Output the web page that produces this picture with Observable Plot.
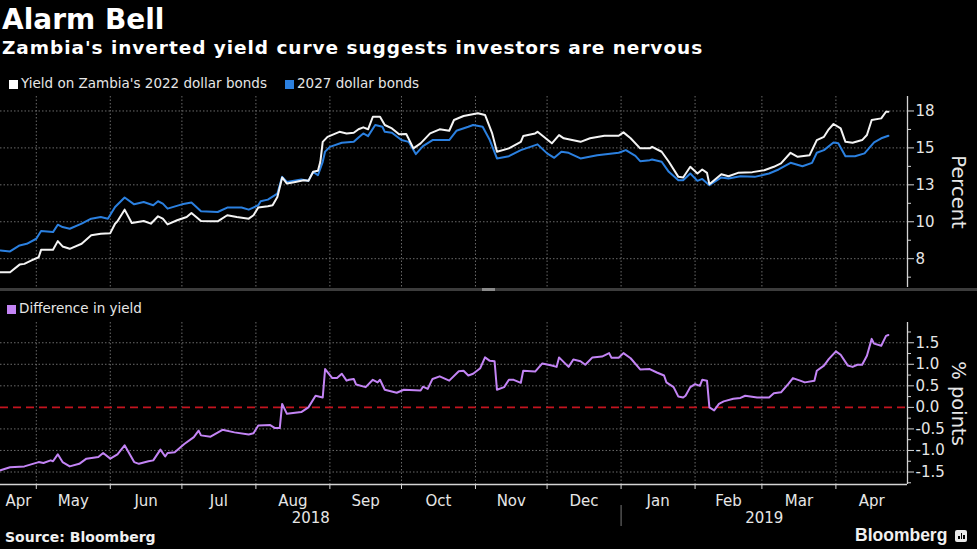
<!DOCTYPE html>
<html>
<head>
<meta charset="utf-8">
<script src="https://cdn.jsdelivr.net/npm/d3@7"></script>
<script src="https://cdn.jsdelivr.net/npm/@observablehq/plot@0.6"></script>
<style>
html,body{margin:0;padding:0;background:#000;}
#root{position:relative;width:977px;height:549px;overflow:hidden;background:#000;color:#e6e6e6;font-family:"DejaVu Sans",sans-serif;}
.abs{position:absolute;white-space:nowrap;}
#title{left:2px;top:2px;font-size:28px;font-weight:bold;color:#fff;line-height:36px;}
#subtitle{left:2px;top:36px;font-size:18.5px;font-weight:bold;color:#fff;letter-spacing:0.95px;line-height:24px;}
.leg{font-size:13.5px;color:#e6e6e6;line-height:16px;}
.sw{display:inline-block;width:9px;height:9px;margin-right:3px;vertical-align:-0.5px;}
#divider{left:0;top:288px;width:977px;height:2.5px;background:#3c3c3c;}
#handle{left:482px;top:288px;width:13px;height:2.5px;background:#8a8a8a;}
#source{left:5px;top:529px;font-size:14px;font-weight:bold;color:#f0f0f0;line-height:16px;}
#logo{left:855px;top:525px;font-family:"Liberation Sans",sans-serif;font-size:17.5px;font-weight:bold;color:#f0f0f0;line-height:20px;}
#icon{left:955px;top:530px;width:12px;height:12px;background:#e8e8e8;border-radius:2px;}
.bar{position:absolute;bottom:3px;width:1.5px;background:#000;}
svg{position:absolute;left:0;}
</style>
</head>
<body>
<div id="root">
  <div id="title" class="abs">Alarm Bell</div>
  <div id="subtitle" class="abs">Zambia's inverted yield curve suggests investors are nervous</div>
  <div class="abs leg" style="left:9px;top:75px"><span class="sw" style="background:#ffffff"></span>Yield on Zambia's 2022 dollar bonds</div>
  <div class="abs leg" style="left:285px;top:75px"><span class="sw" style="background:#2b80e0"></span>2027 dollar bonds</div>
  <div id="divider" class="abs"></div>
  <div id="handle" class="abs"></div>
  <div class="abs leg" style="left:7px;top:300px"><span class="sw" style="background:#c384f5"></span>Difference in yield</div>
  <div id="source" class="abs">Source: Bloomberg</div>
  <div id="logo" class="abs">Bloomberg</div>
  <div id="icon" class="abs"><div class="bar" style="left:3px;height:3px"></div><div class="bar" style="left:5.5px;height:6px"></div><div class="bar" style="left:8px;height:4px"></div></div>
</div>
<script>
// ---------- data ----------
const dates2022 = ["2018-04-16","2018-04-20","2018-04-24","2018-04-26","2018-04-29","2018-05-02","2018-05-03","2018-05-08","2018-05-10","2018-05-12","2018-05-15","2018-05-20","2018-05-24","2018-05-28","2018-06-01","2018-06-03","2018-06-04","2018-06-07","2018-06-10","2018-06-15","2018-06-18","2018-06-21","2018-06-23","2018-06-25","2018-06-29","2018-07-03","2018-07-05","2018-07-09","2018-07-13","2018-07-16","2018-07-20","2018-07-24","2018-07-29","2018-07-31","2018-08-02","2018-08-06","2018-08-08","2018-08-10","2018-08-12","2018-08-14","2018-08-17","2018-08-21","2018-08-23","2018-08-25","2018-08-27","2018-08-28","2018-08-29","2018-08-31","2018-09-05","2018-09-08","2018-09-11","2018-09-13","2018-09-15","2018-09-17","2018-09-19","2018-09-22","2018-09-24","2018-09-27","2018-09-30","2018-10-03","2018-10-06","2018-10-09","2018-10-13","2018-10-17","2018-10-21","2018-10-23","2018-10-27","2018-11-02","2018-11-05","2018-11-08","2018-11-10","2018-11-15","2018-11-20","2018-11-21","2018-11-26","2018-11-27","2018-12-03","2018-12-06","2018-12-08","2018-12-15","2018-12-19","2018-12-25","2018-12-31","2019-01-02","2019-01-05","2019-01-09","2019-01-13","2019-01-14","2019-01-18","2019-01-21","2019-01-25","2019-01-27","2019-01-30","2019-02-02","2019-02-04","2019-02-06","2019-02-07","2019-02-12","2019-02-15","2019-02-19","2019-02-25","2019-03-02","2019-03-06","2019-03-09","2019-03-13","2019-03-16","2019-03-21","2019-03-24","2019-03-27","2019-03-29","2019-03-31","2019-04-03","2019-04-05","2019-04-08","2019-04-12","2019-04-14","2019-04-16","2019-04-20","2019-04-22","2019-04-23"];
const yield2022 = [6.58,6.58,7.10,7.15,7.38,7.60,8.10,8.10,8.69,8.33,8.17,8.51,9.08,9.19,9.23,9.87,10.03,10.82,9.91,10.05,9.87,10.37,10.21,9.82,10.10,10.32,10.59,10.05,10.03,10.03,10.44,10.32,10.21,10.44,10.96,11.05,11.12,11.68,13.00,12.59,12.68,12.81,12.77,13.38,13.45,14.06,15.41,15.75,16.09,15.98,16.03,16.26,16.39,16.26,17.11,17.11,16.55,16.32,15.92,15.94,14.97,15.31,15.98,16.26,16.16,16.89,17.16,17.34,17.23,15.98,14.74,14.97,15.41,15.80,15.98,16.09,15.31,15.87,15.65,15.41,15.65,15.82,15.82,16.05,15.65,14.97,14.97,15.07,14.74,14.06,13.04,13.00,13.72,13.27,13.54,13.31,12.54,13.22,13.08,13.31,13.36,13.49,13.72,13.95,14.67,14.40,14.51,15.53,15.75,16.26,16.62,16.32,15.41,15.35,15.53,15.87,16.89,17.00,17.45,17.45];

const dates2027 = ["2018-04-16","2018-04-20","2018-04-24","2018-04-27","2018-05-01","2018-05-03","2018-05-08","2018-05-10","2018-05-12","2018-05-15","2018-05-20","2018-05-24","2018-05-28","2018-05-31","2018-06-03","2018-06-07","2018-06-11","2018-06-15","2018-06-19","2018-06-21","2018-06-23","2018-06-25","2018-07-01","2018-07-05","2018-07-09","2018-07-16","2018-07-20","2018-07-26","2018-07-29","2018-08-02","2018-08-03","2018-08-06","2018-08-10","2018-08-12","2018-08-14","2018-08-20","2018-08-23","2018-08-25","2018-08-27","2018-08-29","2018-08-30","2018-09-01","2018-09-06","2018-09-11","2018-09-13","2018-09-15","2018-09-17","2018-09-20","2018-09-23","2018-09-24","2018-09-27","2018-10-01","2018-10-04","2018-10-07","2018-10-10","2018-10-14","2018-10-21","2018-10-24","2018-10-29","2018-10-31","2018-11-04","2018-11-07","2018-11-10","2018-11-15","2018-11-20","2018-11-27","2018-12-01","2018-12-04","2018-12-07","2018-12-10","2018-12-15","2018-12-22","2018-12-31","2019-01-03","2019-01-07","2019-01-09","2019-01-13","2019-01-14","2019-01-18","2019-01-21","2019-01-25","2019-01-27","2019-01-30","2019-02-02","2019-02-04","2019-02-07","2019-02-12","2019-02-15","2019-02-20","2019-02-26","2019-03-04","2019-03-08","2019-03-13","2019-03-18","2019-03-22","2019-03-24","2019-03-27","2019-03-31","2019-04-02","2019-04-05","2019-04-09","2019-04-13","2019-04-17","2019-04-20","2019-04-23"];
const yield2027 = [8.06,7.99,8.40,8.51,8.85,9.37,9.30,9.80,9.64,9.53,9.87,10.21,10.32,10.21,11.00,11.64,11.18,11.34,11.12,11.39,11.23,10.89,11.18,11.30,10.71,10.66,10.96,10.96,10.82,11.12,11.39,11.50,11.91,13.04,12.70,12.86,12.77,13.38,13.15,14.06,14.75,15.07,15.35,15.41,15.71,15.98,15.80,16.55,16.43,16.09,16.03,15.53,15.41,14.58,15.12,15.53,15.53,16.16,16.43,16.55,16.43,15.53,14.29,14.44,14.85,15.24,14.63,14.33,14.74,14.67,14.29,14.51,14.67,14.85,14.46,14.10,14.17,14.22,14.06,13.38,12.81,12.81,13.27,12.77,12.90,12.47,13.00,12.93,13.08,13.04,13.27,13.54,13.99,13.76,13.99,14.67,14.85,15.37,15.31,14.44,14.44,14.63,15.37,15.65,15.82];

const datesDiff = ["2018-04-16","2018-04-20","2018-04-26","2018-05-02","2018-05-04","2018-05-07","2018-05-08","2018-05-10","2018-05-12","2018-05-15","2018-05-19","2018-05-22","2018-05-27","2018-05-29","2018-06-01","2018-06-04","2018-06-07","2018-06-11","2018-06-13","2018-06-17","2018-06-19","2018-06-22","2018-06-24","2018-06-25","2018-06-28","2018-07-02","2018-07-06","2018-07-08","2018-07-09","2018-07-13","2018-07-18","2018-07-23","2018-07-29","2018-07-31","2018-08-02","2018-08-07","2018-08-09","2018-08-11","2018-08-12","2018-08-14","2018-08-20","2018-08-23","2018-08-26","2018-08-29","2018-08-30","2018-09-02","2018-09-04","2018-09-06","2018-09-08","2018-09-09","2018-09-11","2018-09-12","2018-09-16","2018-09-19","2018-09-21","2018-09-22","2018-09-24","2018-09-29","2018-10-02","2018-10-09","2018-10-10","2018-10-12","2018-10-14","2018-10-17","2018-10-21","2018-10-25","2018-10-27","2018-10-29","2018-10-31","2018-11-03","2018-11-05","2018-11-07","2018-11-09","2018-11-10","2018-11-13","2018-11-15","2018-11-17","2018-11-20","2018-11-21","2018-11-26","2018-11-29","2018-12-03","2018-12-05","2018-12-06","2018-12-10","2018-12-12","2018-12-15","2018-12-17","2018-12-20","2018-12-24","2018-12-27","2018-12-28","2018-12-31","2019-01-02","2019-01-05","2019-01-09","2019-01-13","2019-01-16","2019-01-19","2019-01-20","2019-01-23","2019-01-25","2019-01-27","2019-01-28","2019-01-30","2019-02-01","2019-02-03","2019-02-04","2019-02-06","2019-02-07","2019-02-09","2019-02-11","2019-02-13","2019-02-17","2019-02-20","2019-02-22","2019-02-27","2019-03-04","2019-03-06","2019-03-09","2019-03-12","2019-03-14","2019-03-17","2019-03-19","2019-03-23","2019-03-24","2019-03-27","2019-03-29","2019-04-01","2019-04-03","2019-04-06","2019-04-08","2019-04-10","2019-04-12","2019-04-14","2019-04-16","2019-04-17","2019-04-20","2019-04-22","2019-04-23"];
const diffYield = [-1.46,-1.39,-1.37,-1.27,-1.29,-1.23,-1.25,-1.09,-1.27,-1.37,-1.31,-1.19,-1.15,-1.06,-1.19,-1.09,-0.88,-1.27,-1.31,-1.25,-1.23,-0.98,-1.14,-1.06,-1.04,-0.85,-0.69,-0.54,-0.65,-0.68,-0.52,-0.58,-0.63,-0.60,-0.42,-0.41,-0.48,-0.48,0.08,-0.15,-0.11,0.00,0.27,0.23,0.89,0.68,0.68,0.78,0.62,0.64,0.66,0.53,0.47,0.64,0.58,0.64,0.41,0.34,0.41,0.39,0.48,0.43,0.66,0.72,0.62,0.84,0.85,0.74,0.78,0.91,1.16,1.08,1.07,0.41,0.47,0.64,0.64,0.57,0.85,0.83,1.02,0.97,0.94,1.16,0.94,1.11,1.07,0.99,1.16,1.18,1.26,1.15,1.15,1.26,1.14,0.88,0.89,0.81,0.74,0.58,0.47,0.25,0.23,0.27,0.47,0.54,0.50,0.64,0.62,0.00,-0.07,0.08,0.14,0.20,0.22,0.27,0.23,0.23,0.33,0.35,0.54,0.68,0.62,0.58,0.62,0.85,0.97,1.12,1.30,1.22,0.97,0.94,0.99,0.99,1.20,1.59,1.48,1.43,1.66,1.68];

const monthStarts = ["2018-05-01","2018-06-01","2018-07-01","2018-08-01","2018-09-01","2018-10-01","2018-11-01","2018-12-01","2019-01-01","2019-02-01","2019-03-01","2019-04-01"];
const monthLabels = ["Apr","May","Jun","Jul","Aug","Sep","Oct","Nov","Dec","Jan","Feb","Mar","Apr"];
const yearLabels = ["2018","2019"];
const yearStart2019 = "2019-01-01";
const xStart = "2018-04-16", xEnd = "2019-05-01";
const topTicks = [7.5, 10, 12.5, 15, 17.5];
const topMinor = [6.25, 8.75, 11.25, 13.75, 16.25];
const bottomTicks = [-1.5, -1, -0.5, 0, 0.5, 1, 1.5];
const bottomMinor = [-1.75, -1.25, -0.75, -0.25, 0.25, 0.75, 1.25, 1.75];

// ---------- build ----------
const parse = d3.utcParse("%Y-%m-%d");
const xDomain = [parse(xStart), parse(xEnd)];
const months = monthStarts.map(parse);
const toSeries = (ds, vs) => ds.map((d, i) => ({date: parse(d), value: vs[i]}));
const s2022 = toSeries(dates2022, yield2022);
const s2027 = toSeries(dates2027, yield2027);
const sDiff = toSeries(datesDiff, diffYield);

const bounds = [xDomain[0], ...months, xDomain[1]];
const monthData = monthLabels.map((label, i) => ({label, mid: new Date((+bounds[i] + +bounds[i + 1]) / 2)}));
const jan = parse(yearStart2019);
const yearData = [
  {label: yearLabels[0], mid: new Date((+xDomain[0] + +jan) / 2)},
  {label: yearLabels[1], mid: new Date((+jan + +xDomain[1]) / 2)}
];

const WHITE = "#f4f4f4", BLUE = "#2b80e0", PURPLE = "#c384f5", AXIS = "#d4d4d4", GRID = "#6a6a6a", TXT = "#e6e6e6";
const FONT = "DejaVu Sans";
const common = {
  width: 977, marginLeft: 0, marginRight: 70,
  style: {background: "transparent", color: TXT, fontFamily: FONT, fontSize: "15px", overflow: "visible"},
  x: {type: "utc", domain: xDomain, axis: null}
};
const gridStyle = {stroke: GRID, strokeOpacity: 1, strokeDasharray: "1.5,2"};

const topPlot = Plot.plot({
  ...common,
  height: 200, marginTop: 6, marginBottom: 3,
  y: {domain: [5.55, 18.48], axis: null},
  marks: [
    Plot.gridX(months, gridStyle),
    Plot.gridY(topTicks, gridStyle),
    Plot.ruleX([xDomain[1]], {stroke: AXIS, strokeWidth: 1.3}),
    Plot.axisY(topMinor, {anchor: "right", tickSize: 3, tickFormat: () => "", stroke: AXIS, label: null}),
    Plot.axisY(topTicks, {anchor: "right", tickSize: 6, tickPadding: 2, tickFormat: d => String(Math.round(d)), stroke: AXIS, fill: TXT, fontSize: 15, label: null}),
    Plot.text(["Percent"], {text: d => d, frameAnchor: "right", textAnchor: "middle", dx: 51, rotate: 90, fontSize: 19.5, fill: TXT}),
    Plot.line(s2027, {x: "date", y: "value", stroke: BLUE, strokeWidth: 2}),
    Plot.line(s2022, {x: "date", y: "value", stroke: WHITE, strokeWidth: 2})
  ]
});
topPlot.style.top = "90px";

const botPlot = Plot.plot({
  ...common,
  height: 175, marginTop: 6, marginBottom: 7,
  y: {domain: [-1.79, 1.97], axis: null},
  marks: [
    Plot.gridX(months, gridStyle),
    Plot.gridY(bottomTicks.filter(d => d !== 0), gridStyle),
    Plot.ruleY([0], {stroke: "#c3141f", strokeWidth: 1.6, strokeDasharray: "8,5"}),
    Plot.ruleX([xDomain[1]], {stroke: AXIS, strokeWidth: 1.3}),
    Plot.ruleY([-1.79], {stroke: AXIS, strokeWidth: 1.3}),
    Plot.axisX(months, {anchor: "bottom", tickSize: 5, tickFormat: () => "", stroke: AXIS, label: null}),
    Plot.axisY(bottomMinor, {anchor: "right", tickSize: 3, tickFormat: () => "", stroke: AXIS, label: null}),
    Plot.axisY(bottomTicks, {anchor: "right", tickSize: 6, tickPadding: 2, tickFormat: d => d.toFixed(1), stroke: AXIS, fill: TXT, fontSize: 15, label: null}),
    Plot.text(["% points"], {text: d => d, frameAnchor: "right", textAnchor: "middle", dx: 51, rotate: 90, fontSize: 19.5, fill: TXT}),
    Plot.line(sDiff, {x: "date", y: "value", stroke: PURPLE, strokeWidth: 2})
  ]
});
botPlot.style.top = "316px";

const axisPlot = Plot.plot({
  ...common,
  height: 60, marginTop: 21, marginBottom: 18,
  marks: [
    Plot.ruleX([jan], {stroke: "#777"}),
    Plot.text(monthData, {x: "mid", text: "label", frameAnchor: "top", dy: -10, fontSize: 15, fill: TXT}),
    Plot.text(yearData, {x: "mid", text: "label", frameAnchor: "middle", dy: 2.5, fontSize: 15, fill: TXT})
  ]
});
axisPlot.style.top = "484px";

const root = document.getElementById("root");
root.appendChild(topPlot);
root.appendChild(botPlot);
root.appendChild(axisPlot);
</script>
</body>
</html>
